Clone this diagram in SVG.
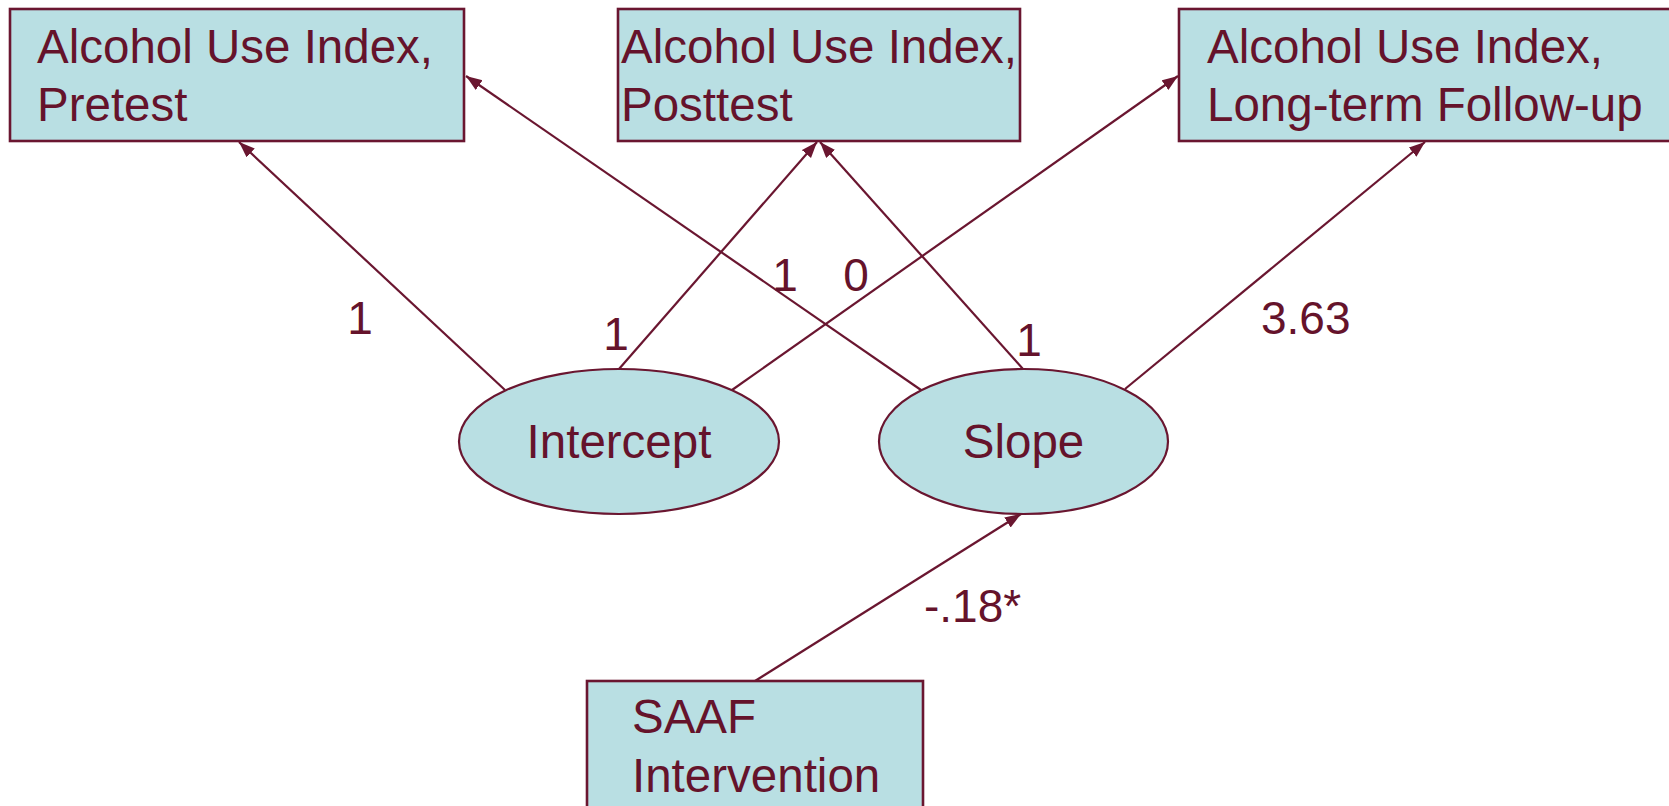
<svg xmlns="http://www.w3.org/2000/svg" width="1669" height="806" viewBox="0 0 1669 806">
<style>
.box{fill:#b9dfe3;stroke:#6a1630;stroke-width:2.6}
.ell{fill:#b9dfe3;stroke:#6a1630;stroke-width:2.2}
.t{font-family:"Liberation Sans",Arial,sans-serif;font-size:47.5px;fill:#65132b}
.lbl{font-family:"Liberation Sans",Arial,sans-serif;font-size:46px;fill:#65132b}
.c{stroke:#6a1630;stroke-width:2.2;fill:none;marker-end:url(#ah)}
</style>
<defs>
<marker id="ah" markerUnits="userSpaceOnUse" markerWidth="18" markerHeight="14" refX="16" refY="6" orient="auto">
<path d="M0,0 L16,6 L0,12 z" fill="#6a1630"/>
</marker>
</defs>
<rect width="1669" height="806" fill="#ffffff"/>
<g id="connectors">
<line class="c" x1="505" y1="390" x2="239" y2="142"/>
<line class="c" x1="619" y1="369" x2="817" y2="142"/>
<line class="c" x1="732" y1="390" x2="1178" y2="76"/>
<line class="c" x1="921" y1="390" x2="466" y2="76"/>
<line class="c" x1="1023" y1="369" x2="820" y2="142"/>
<line class="c" x1="1125" y1="389" x2="1425" y2="142"/>
<line class="c" x1="755" y1="681" x2="1021" y2="514"/>
<text class="lbl" x="360" y="334" text-anchor="middle">1</text>
<text class="lbl" x="616" y="350" text-anchor="middle">1</text>
<text class="lbl" x="785" y="291" text-anchor="middle">1</text>
<text class="lbl" x="856" y="291" text-anchor="middle">0</text>
<text class="lbl" x="1029" y="356" text-anchor="middle">1</text>
<text class="lbl" x="1261" y="334">3.63</text>
<text class="lbl" x="924" y="622">-.18*</text>
</g>
<g id="pretest">
<rect class="box" x="10" y="9" width="454" height="132"/>
<text class="t" x="37" y="63">Alcohol Use Index,</text>
<text class="t" x="37" y="121">Pretest</text>
</g>
<g id="posttest">
<rect class="box" x="618" y="9" width="402" height="132"/>
<text class="t" x="621" y="63">Alcohol Use Index,</text>
<text class="t" x="621" y="121">Posttest</text>
</g>
<g id="followup">
<rect class="box" x="1179" y="9" width="495" height="132"/>
<text class="t" x="1207" y="63">Alcohol Use Index,</text>
<text class="t" x="1207" y="121">Long-term Follow-up</text>
</g>
<g id="intercept">
<ellipse class="ell" cx="619" cy="441.5" rx="160" ry="72.5"/>
<text class="t" x="619" y="458" text-anchor="middle">Intercept</text>
</g>
<g id="slope">
<ellipse class="ell" cx="1023.5" cy="441.5" rx="144.5" ry="72.5"/>
<text class="t" x="1023.5" y="458" text-anchor="middle">Slope</text>
</g>
<g id="saaf">
<rect class="box" x="587" y="681" width="336" height="140"/>
<text class="t" x="632" y="733">SAAF</text>
<text class="t" x="632" y="792">Intervention</text>
</g>
</svg>
